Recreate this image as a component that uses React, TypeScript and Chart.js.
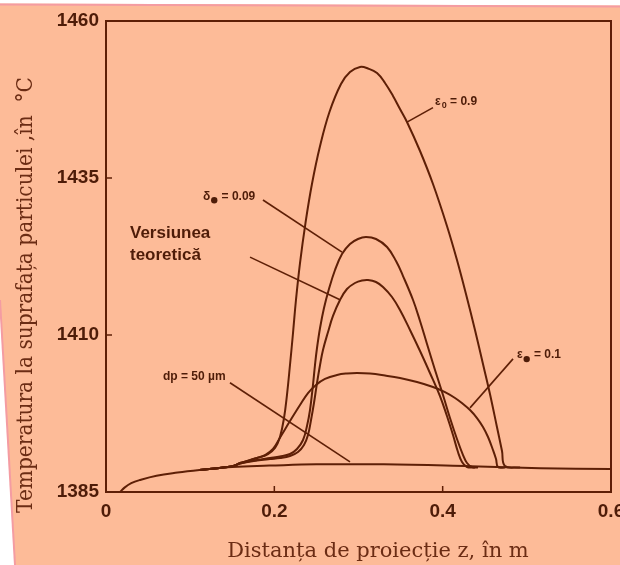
import React, { useEffect, useRef } from "react";
import { Chart, registerables } from "chart.js";
Chart.register(...registerables);

// ---- axis ticks ----
const xTickValues = [0, 0.2, 0.4, 0.6];
const xTickLabels = ["0", "0.2", "0.4", "0.6"];
const yTickValues = [1385, 1410, 1435, 1460];

// ---- series: [z (m), T (°C)] ----
const dp50: [number, number][] = [
  [0.0166, 1385.0], [0.022, 1385.7], [0.03, 1386.4], [0.04, 1386.9], [0.06, 1387.6],
  [0.085, 1388.1], [0.111, 1388.5], [0.15, 1389.0], [0.194, 1389.2], [0.25, 1389.4],
  [0.33, 1389.4], [0.433, 1389.1], [0.516, 1388.8], [0.6, 1388.65],
];

const eps09: [number, number][] = [
  [0.111, 1388.5], [0.15, 1389.1], [0.1592, 1389.62], [0.1794, 1390.41], [0.1925, 1391.05],
  [0.2008, 1392.0], [0.2067, 1393.76], [0.2115, 1396.78], [0.215, 1400.44], [0.2186, 1405.22],
  [0.2222, 1410.32], [0.2257, 1415.57], [0.2305, 1421.46], [0.237, 1427.83], [0.2447, 1434.04],
  [0.2543, 1440.09], [0.2655, 1445.51], [0.2792, 1449.97], [0.2899, 1451.88], [0.3018, 1452.68],
  [0.3113, 1452.44], [0.322, 1451.72], [0.3315, 1450.13], [0.341, 1448.06], [0.3493, 1445.99],
  [0.3576, 1443.92], [0.3731, 1439.3], [0.3885, 1434.04], [0.4051, 1427.36], [0.417, 1421.94],
  [0.4277, 1416.53], [0.4384, 1410.79], [0.4479, 1405.38], [0.4562, 1400.6], [0.4645, 1395.35],
  [0.4705, 1391.53], [0.474, 1389.14], [0.4919, 1388.9],
];

const delta009: [number, number][] = [
  [0.111, 1388.5], [0.15, 1389.1], [0.1592, 1389.54], [0.1794, 1390.1], [0.1948, 1390.41],
  [0.2067, 1390.65], [0.2186, 1391.05], [0.2269, 1391.85], [0.2341, 1393.28], [0.2388, 1395.51],
  [0.2424, 1398.06], [0.2459, 1402.04], [0.2483, 1405.22], [0.2507, 1407.93], [0.2543, 1411.11],
  [0.259, 1414.3], [0.2649, 1417.32], [0.2721, 1420.35], [0.2804, 1422.9], [0.2899, 1424.49],
  [0.2994, 1425.29], [0.3089, 1425.6], [0.3208, 1425.29], [0.3339, 1424.01], [0.3446, 1421.78],
  [0.3529, 1419.39], [0.3648, 1415.57], [0.3731, 1412.23], [0.3814, 1408.57], [0.3909, 1404.43],
  [0.4004, 1400.44], [0.4087, 1396.78], [0.417, 1393.44], [0.4242, 1390.89], [0.4289, 1389.62],
  [0.4349, 1388.98], [0.442, 1388.9],
];

const teoretic: [number, number][] = [
  [0.111, 1388.5], [0.15, 1389.1], [0.1592, 1389.54], [0.1794, 1390.01], [0.1948, 1390.25],
  [0.2067, 1390.41], [0.2186, 1390.73], [0.2281, 1391.37], [0.2352, 1392.48], [0.24, 1394.07],
  [0.2436, 1396.46], [0.2471, 1399.17], [0.2507, 1402.36], [0.2543, 1405.22], [0.2578, 1407.61],
  [0.2638, 1410.48], [0.2697, 1413.03], [0.278, 1415.57], [0.2863, 1417.32], [0.2958, 1418.28],
  [0.3042, 1418.68], [0.3113, 1418.76], [0.3208, 1418.44], [0.3291, 1417.64], [0.3398, 1416.05],
  [0.3493, 1413.98], [0.3612, 1410.8], [0.3731, 1407.45], [0.3849, 1403.95], [0.3968, 1400.28],
  [0.4051, 1397.1], [0.4123, 1394.07], [0.4182, 1391.37], [0.423, 1389.78], [0.4289, 1388.98],
  [0.4384, 1388.9],
];

const eps01: [number, number][] = [
  [0.111, 1388.5], [0.15, 1389.1], [0.1592, 1389.62], [0.1794, 1390.41], [0.1889, 1390.89],
  [0.1984, 1391.85], [0.2079, 1393.92], [0.2186, 1396.3], [0.2305, 1398.85], [0.24, 1400.76],
  [0.2495, 1402.04], [0.2602, 1403.0], [0.2745, 1403.63], [0.2863, 1403.87], [0.2982, 1403.95],
  [0.3137, 1403.87], [0.3315, 1403.55], [0.3493, 1403.15], [0.3695, 1402.51], [0.3885, 1401.72],
  [0.4028, 1400.92], [0.4147, 1399.97], [0.4242, 1399.01], [0.4325, 1398.06], [0.4408, 1396.78],
  [0.4479, 1395.35], [0.4539, 1393.76], [0.4598, 1391.69], [0.4634, 1390.25], [0.4657, 1388.98],
  [0.474, 1388.9],
];

// ---- annotation leader lines: [z1, T1, z2, T2] ----
const leaderLines: [number, number, number, number][] = [
  [0.3576, 1443.9, 0.3885, 1446.2],
  [0.1865, 1431.5, 0.2804, 1423.2],
  [0.1711, 1422.4, 0.278, 1415.6],
  [0.4836, 1406.2, 0.4325, 1398.4],
  [0.1473, 1402.4, 0.2899, 1389.8],
];

type Part = { t: string; sub?: boolean; dot?: boolean };
const labelTexts: Part[][] = [
  [{ t: "ε" }, { t: "0", sub: true }, { t: " = 0.9" }],
  [{ t: "δ" }, { t: "", dot: true }, { t: " = 0.09" }],
  [{ t: "ε" }, { t: "", dot: true }, { t: " = 0.1" }],
  [{ t: "dp = 50 µm" }],
];
const labelAnchors: [number, number][] = [
  [0.3909, 1447.1],
  [0.1152, 1432.1],
  [0.4883, 1406.8],
  [0.0677, 1403.3],
];
const boldLabelLines = ["Versiunea", "teoretică"];
const boldLabelAnchors: [number, number][] = [
  [0.0285, 1426.2],
  [0.0285, 1422.7],
];

const xTitle = "Distanța de proiecție z, în m";
const yTitle = "Temperatura la suprafața particulei ,în  °C";

const LINE = "#5e1f06";
const TEXT = "#4e1c08";
const TITLE = "#6b2c14";
const BG = "#fdbb98";
const SANS = "'Liberation Sans', Arial, sans-serif";
const SERIF = "'DejaVu Serif', serif";

const decor = {
  id: "decor",
  beforeDraw(chart: any) {
    const { ctx, width, height } = chart;
    ctx.save();
    ctx.fillStyle = BG;
    ctx.fillRect(0, 0, width, height);
    ctx.fillStyle = "#ffffff";
    ctx.beginPath();
    ctx.moveTo(0, 0);
    ctx.lineTo(width, 0);
    ctx.lineTo(width, 5.5);
    ctx.lineTo(0, 3.5);
    ctx.closePath();
    ctx.fill();
    ctx.beginPath();
    ctx.moveTo(0, 300);
    ctx.lineTo(15, height);
    ctx.lineTo(0, height);
    ctx.closePath();
    ctx.fill();
    ctx.strokeStyle = "#f49ca2";
    ctx.lineWidth = 2;
    ctx.beginPath();
    ctx.moveTo(0, 4.5);
    ctx.lineTo(width, 6.5);
    ctx.stroke();
    ctx.beginPath();
    ctx.moveTo(0, 300);
    ctx.lineTo(15, height);
    ctx.stroke();
    ctx.restore();
  },
  afterDraw(chart: any) {
    const { ctx, chartArea: a } = chart;
    const xs = chart.scales.x;
    const ys = chart.scales.y;
    ctx.save();
    // frame
    ctx.strokeStyle = LINE;
    ctx.lineWidth = 2;
    ctx.strokeRect(a.left, a.top, a.right - a.left, a.bottom - a.top);
    // inward ticks
    ctx.lineWidth = 1.5;
    xTickValues.slice(1, -1).forEach((v) => {
      const px = xs.getPixelForValue(v);
      ctx.beginPath();
      ctx.moveTo(px, a.bottom);
      ctx.lineTo(px, a.bottom - 6);
      ctx.stroke();
    });
    yTickValues.slice(1, -1).forEach((v) => {
      const py = ys.getPixelForValue(v);
      ctx.beginPath();
      ctx.moveTo(a.left, py);
      ctx.lineTo(a.left + 6, py);
      ctx.stroke();
    });
    // leader lines
    ctx.lineWidth = 1.6;
    leaderLines.forEach(([z1, t1, z2, t2]) => {
      ctx.beginPath();
      ctx.moveTo(xs.getPixelForValue(z1), ys.getPixelForValue(t1));
      ctx.lineTo(xs.getPixelForValue(z2), ys.getPixelForValue(t2));
      ctx.stroke();
    });
    // small labels
    ctx.fillStyle = TEXT;
    ctx.textBaseline = "middle";
    ctx.textAlign = "left";
    labelTexts.forEach((parts, i) => {
      let x = xs.getPixelForValue(labelAnchors[i][0]);
      const y = ys.getPixelForValue(labelAnchors[i][1]);
      parts.forEach((p) => {
        if (p.dot) {
          ctx.beginPath();
          ctx.arc(x + 4, y + 4, 3.2, 0, Math.PI * 2);
          ctx.fill();
          x += 8;
        } else if (p.sub) {
          ctx.font = `bold 9px ${SANS}`;
          ctx.fillText(p.t, x + 1, y + 4);
          x += ctx.measureText(p.t).width + 1;
        } else {
          ctx.font = `bold 12px ${SANS}`;
          ctx.fillText(p.t, x, y);
          x += ctx.measureText(p.t).width;
        }
      });
    });
    // bold label
    ctx.font = `bold 17px ${SANS}`;
    boldLabelLines.forEach((s, i) => {
      ctx.fillText(s, xs.getPixelForValue(boldLabelAnchors[i][0]), ys.getPixelForValue(boldLabelAnchors[i][1]));
    });
    // titles
    ctx.fillStyle = TITLE;
    ctx.textBaseline = "alphabetic";
    ctx.textAlign = "center";
    ctx.font = `21px ${SERIF}`;
    ctx.fillText(xTitle, 378, 557);
    ctx.save();
    ctx.translate(32, 295);
    ctx.rotate(-Math.PI / 2);
    ctx.font = `23px ${SERIF}`;
    const w = ctx.measureText(yTitle).width;
    ctx.scale(436 / w, 1);
    ctx.fillText(yTitle, 0, 0);
    ctx.restore();
    ctx.restore();
  },
};

const series = [dp50, eps09, delta009, teoretic, eps01];

export default function App() {
  const ref = useRef<HTMLCanvasElement | null>(null);
  useEffect(() => {
    if (!ref.current) return;
    const chart = new Chart(ref.current, {
      type: "line",
      data: {
        datasets: series.map((s) => ({
          data: s.map(([x, y]) => ({ x, y })),
          borderColor: LINE,
          borderWidth: 2,
          pointRadius: 0,
          fill: false,
          tension: 0.4,
        })),
      },
      options: {
        animation: false,
        responsive: false,
        devicePixelRatio: 1,
        layout: { padding: { top: 21, right: 9, left: 0, bottom: 0 } },
        plugins: { legend: { display: false }, tooltip: { enabled: false }, title: { display: false } },
        scales: {
          x: {
            type: "linear",
            min: 0,
            max: 0.6,
            grid: { display: false, drawTicks: false },
            border: { display: false },
            afterBuildTicks: (s: any) => {
              s.ticks = xTickValues.map((v) => ({ value: v }));
            },
            afterFit: (s: any) => {
              s.height = 73;
              s.paddingLeft = 0;
              s.paddingRight = 0;
            },
            ticks: {
              padding: 8,
              maxRotation: 0,
              autoSkip: false,
              color: TEXT,
              font: { family: SANS, size: 19, weight: "bold" },
              callback: (v: any) => {
                const i = xTickValues.findIndex((t) => Math.abs(t - Number(v)) < 1e-9);
                return i >= 0 ? xTickLabels[i] : "";
              },
            },
          },
          y: {
            type: "linear",
            min: 1385,
            max: 1460,
            grid: { display: false, drawTicks: false },
            border: { display: false },
            afterBuildTicks: (s: any) => {
              s.ticks = yTickValues.map((v) => ({ value: v }));
            },
            afterFit: (s: any) => {
              s.width = 106;
              s.paddingTop = 0;
              s.paddingBottom = 0;
            },
            ticks: {
              padding: 7,
              autoSkip: false,
              color: TEXT,
              font: { family: SANS, size: 19, weight: "bold" },
              callback: (v: any) => String(v),
            },
          },
        },
      },
      plugins: [decor],
    });
    return () => chart.destroy();
  }, []);
  return (
    <div style={{ position: "absolute", left: 0, top: 0, width: 620, height: 565 }}>
      <canvas ref={ref} width={620} height={565} style={{ display: "block", width: 620, height: 565 }} />
    </div>
  );
}
